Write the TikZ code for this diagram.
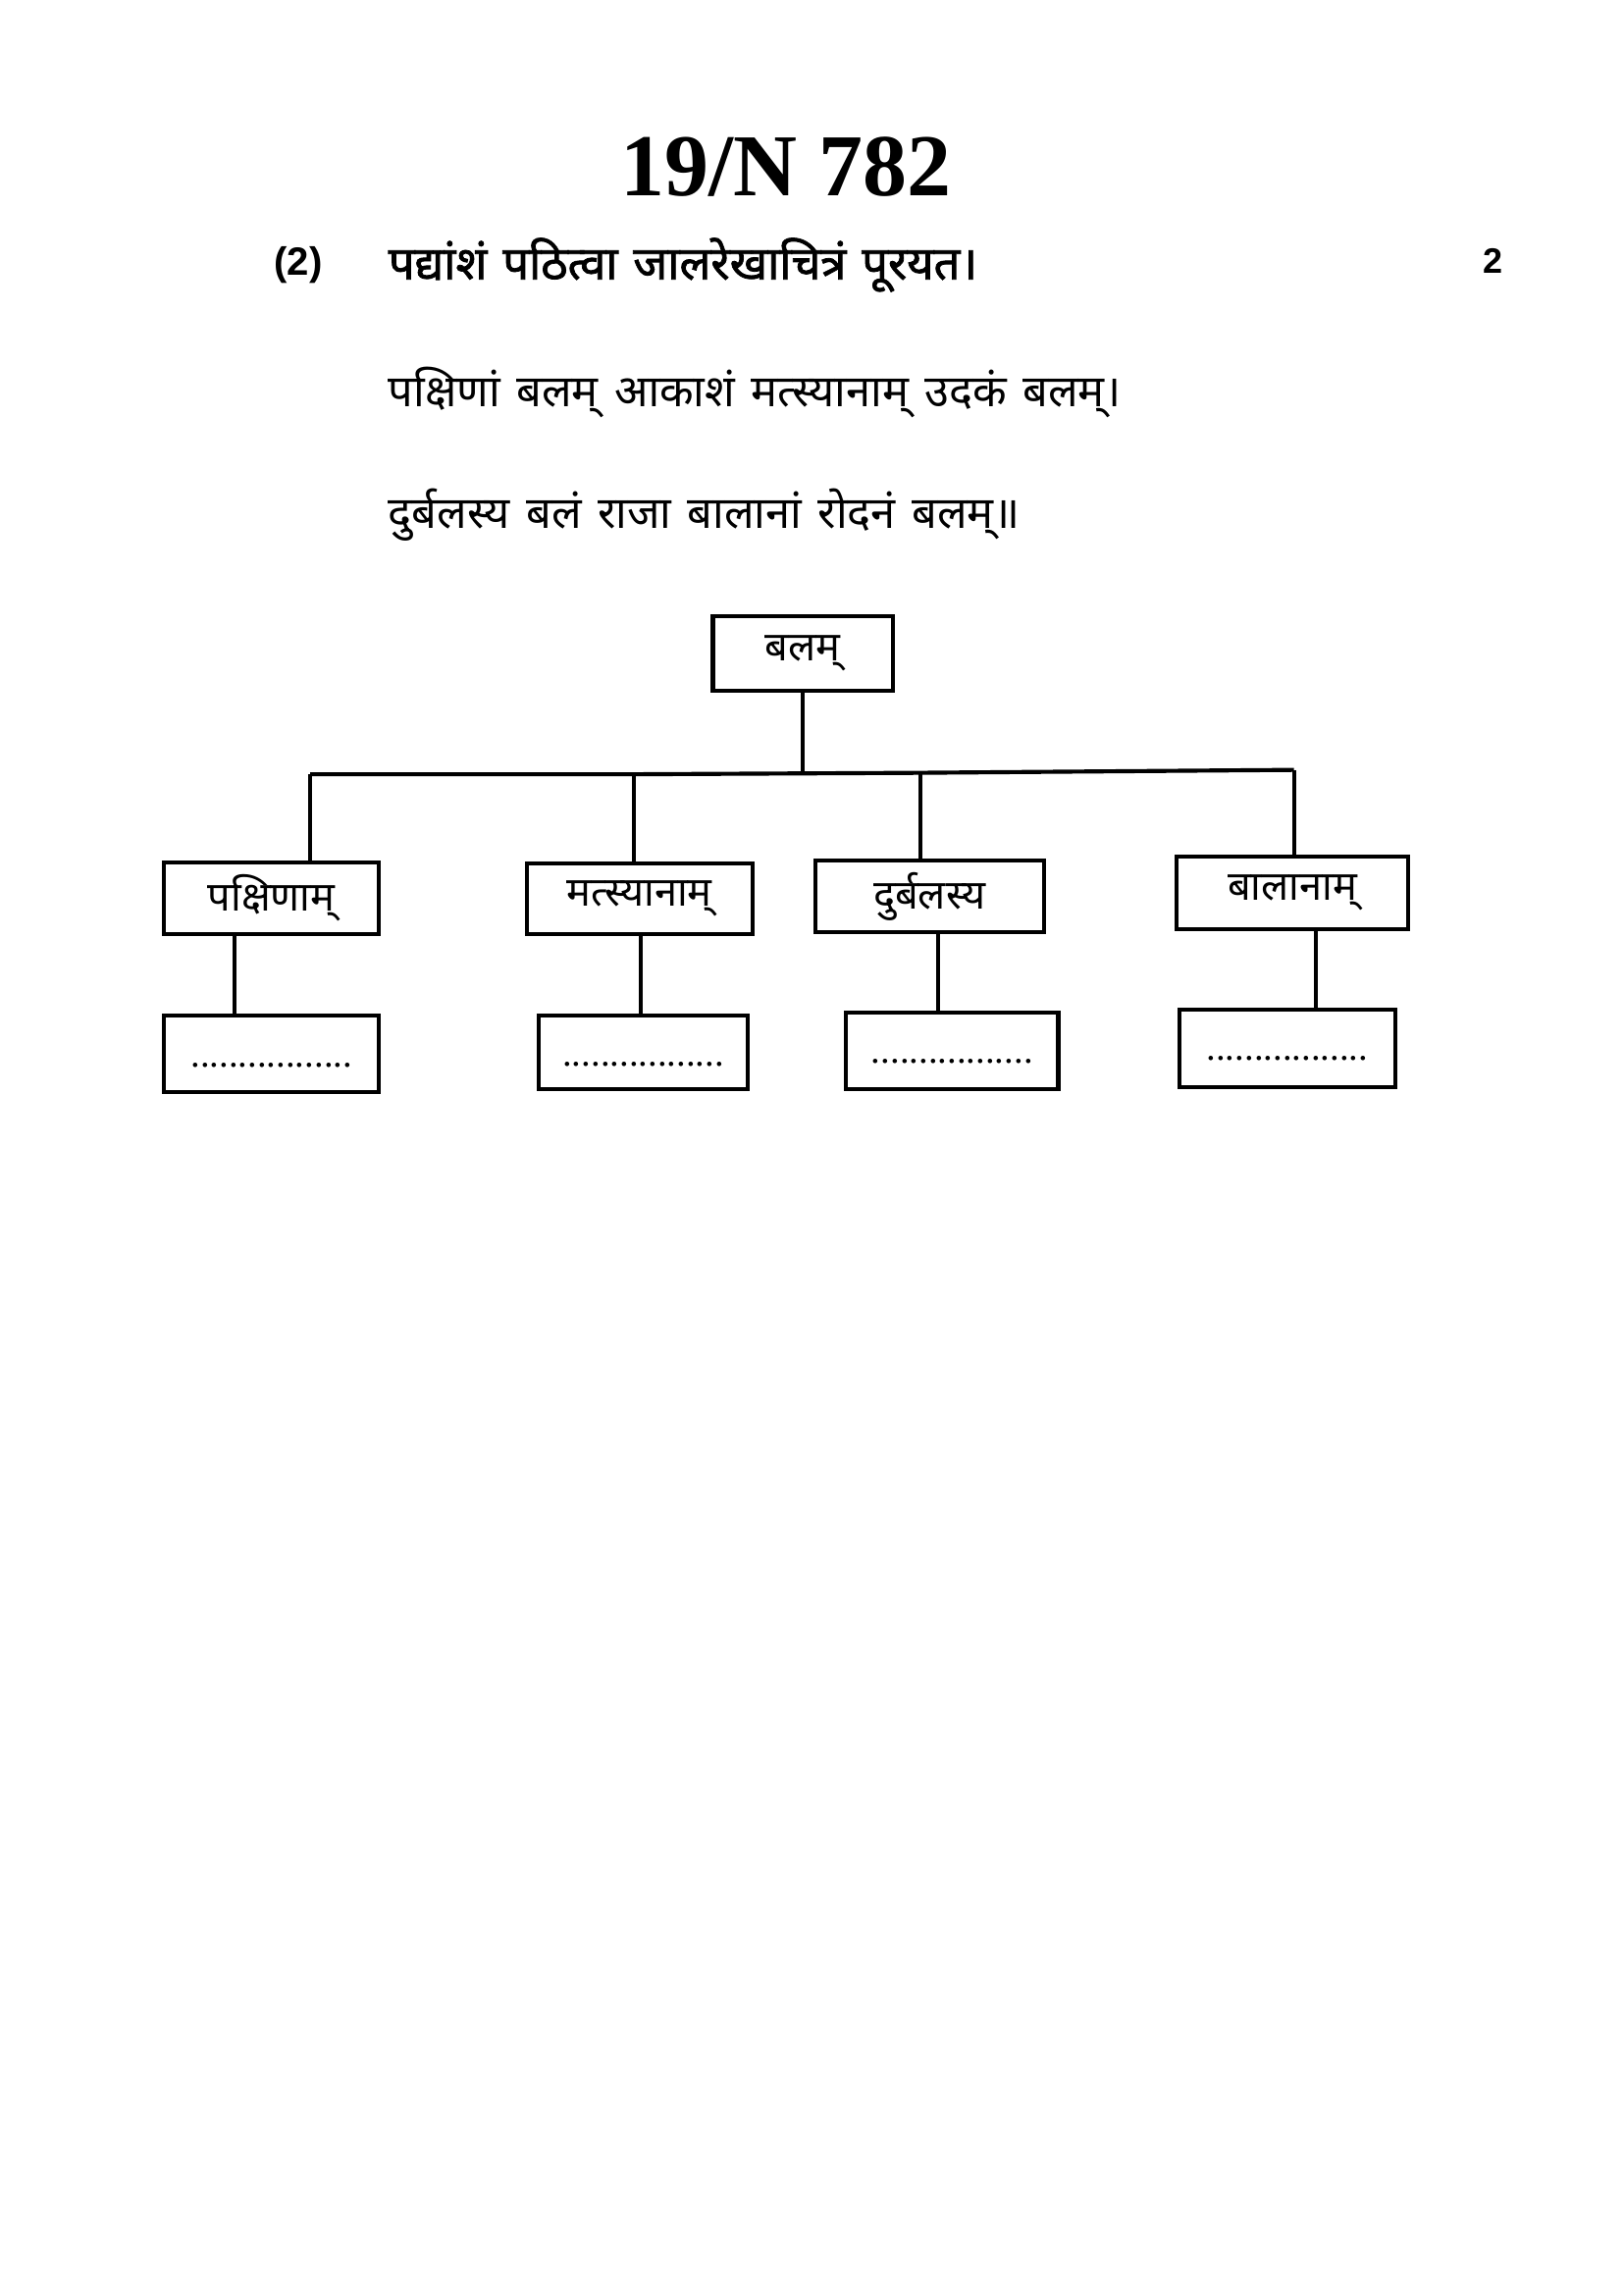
\documentclass[tikz,border=0pt]{standalone}
\usepackage{fontspec}
\usepackage{tikz}
\usetikzlibrary{positioning}
\setmainfont{Liberation Serif}
\newfontfamily\devfont[Script=Devanagari, WordSpace=1.4]{Noto Sans}
\newfontfamily\devbold[Script=Devanagari, WordSpace=1.3, FakeBold=1.6]{Noto Sans}
\newfontfamily\numfont{Liberation Sans}

\begin{document}
\begin{tikzpicture}[
    x=0.18936mm, y=-0.18936mm,
    sz/.style n args={2}{minimum width=#1*0.18936mm, minimum height=#2*0.18936mm},
    box/.style={rectangle, draw=black, line width=1.5pt, inner sep=0pt,
                text centered, font=\devfont\fontsize{15}{18}\selectfont},
    blank/.style={box, font=\fontsize{9}{10}\selectfont},
    link/.style={line width=1.5pt, draw=black},
    txt/.style={anchor=west, inner sep=0pt},
    dotline/.style={font=\fontsize{14}{15}\selectfont, inner sep=0pt}
  ]
    \useasboundingbox (0,0) rectangle (1109,1568);

    % Heading
    \node[inner sep=0pt, font=\bfseries\fontsize{32.5}{36}\selectfont] (title) at (537,114) {19/N 782};
    \node[txt, font=\numfont\bfseries\fontsize{14.5}{16}\selectfont] (qno) at (187,181) {(2)};
    \node[txt, font=\devbold\fontsize{17}{20}\selectfont] (instr) at (265,181) {पद्यांशं पठित्वा जालरेखाचित्रं पूरयत।};
    \node[txt, font=\numfont\bfseries\fontsize{13}{15}\selectfont] (marks) at (1013,178) {2};

    % Verse
    \node[txt, font=\devfont\fontsize{16.3}{19}\selectfont] (verse1) at (265,268) {पक्षिणां बलम् आकाशं मत्स्यानाम् उदकं बलम्।};
    \node[txt, font=\devfont\fontsize{16.3}{19}\selectfont] (verse2) at (265,352) {दुर्बलस्य बलं राजा बालानां रोदनं बलम्॥};

    % Web diagram
    \node[box, sz={123}{51}] (root) at (548.5,446.5) {बलम्};

    \node[box, sz={147}{49}] (pakshi)  at (185.5,613.5) {पक्षिणाम्};
    \node[box, sz={154}{48}] (matsya)  at (437,614)     {मत्स्यानाम्};
    \node[box, sz={156}{49}] (durbala) at (635,612.5)   {दुर्बलस्य};
    \node[box, sz={158}{50}] (bala)    at (883,610)     {बालानाम्};

    \node[blank, sz={147}{52}] (ans1) at (185.5,720) {};
    \node[blank, sz={143}{50}] (ans2) at (439.5,719) {};
    \node[blank, sz={145}{52}] (ans3) at (650.5,718) {};
    \node[blank, sz={147}{53}] (ans4) at (879.5,716.5) {};

    \node[dotline] (dots1) at (185.5,728) {.................};
    \node[dotline] (dots2) at (439.5,727) {.................};
    \node[dotline] (dots3) at (650.5,725) {.................};
    \node[dotline] (dots4) at (879.5,723) {.................};

    % bar and drops
    \coordinate (j1) at (212,529);
    \coordinate (j2) at (433,529);
    \coordinate (j3) at (629,528);
    \coordinate (j4) at (884,526);
    \draw[link] (root.south) -- (root.south |- j2);
    \draw[link] (j1) -- (j2) -- (j3) -- (j4);
    \draw[link] (j1) -- (j1 |- pakshi.north);
    \draw[link] (j2) -- (j2 |- matsya.north);
    \draw[link] (j3) -- (j3 |- durbala.north);
    \draw[link] (j4) -- (j4 |- bala.north);

    \coordinate (k1) at (160,0);
    \coordinate (k2) at (438,0);
    \coordinate (k3) at (641,0);
    \coordinate (k4) at (899,0);
    \draw[link] (k1 |- pakshi.south)  -- (k1 |- ans1.north);
    \draw[link] (k2 |- matsya.south)  -- (k2 |- ans2.north);
    \draw[link] (k3 |- durbala.south) -- (k3 |- ans3.north);
    \draw[link] (k4 |- bala.south)    -- (k4 |- ans4.north);
\end{tikzpicture}
\end{document}
